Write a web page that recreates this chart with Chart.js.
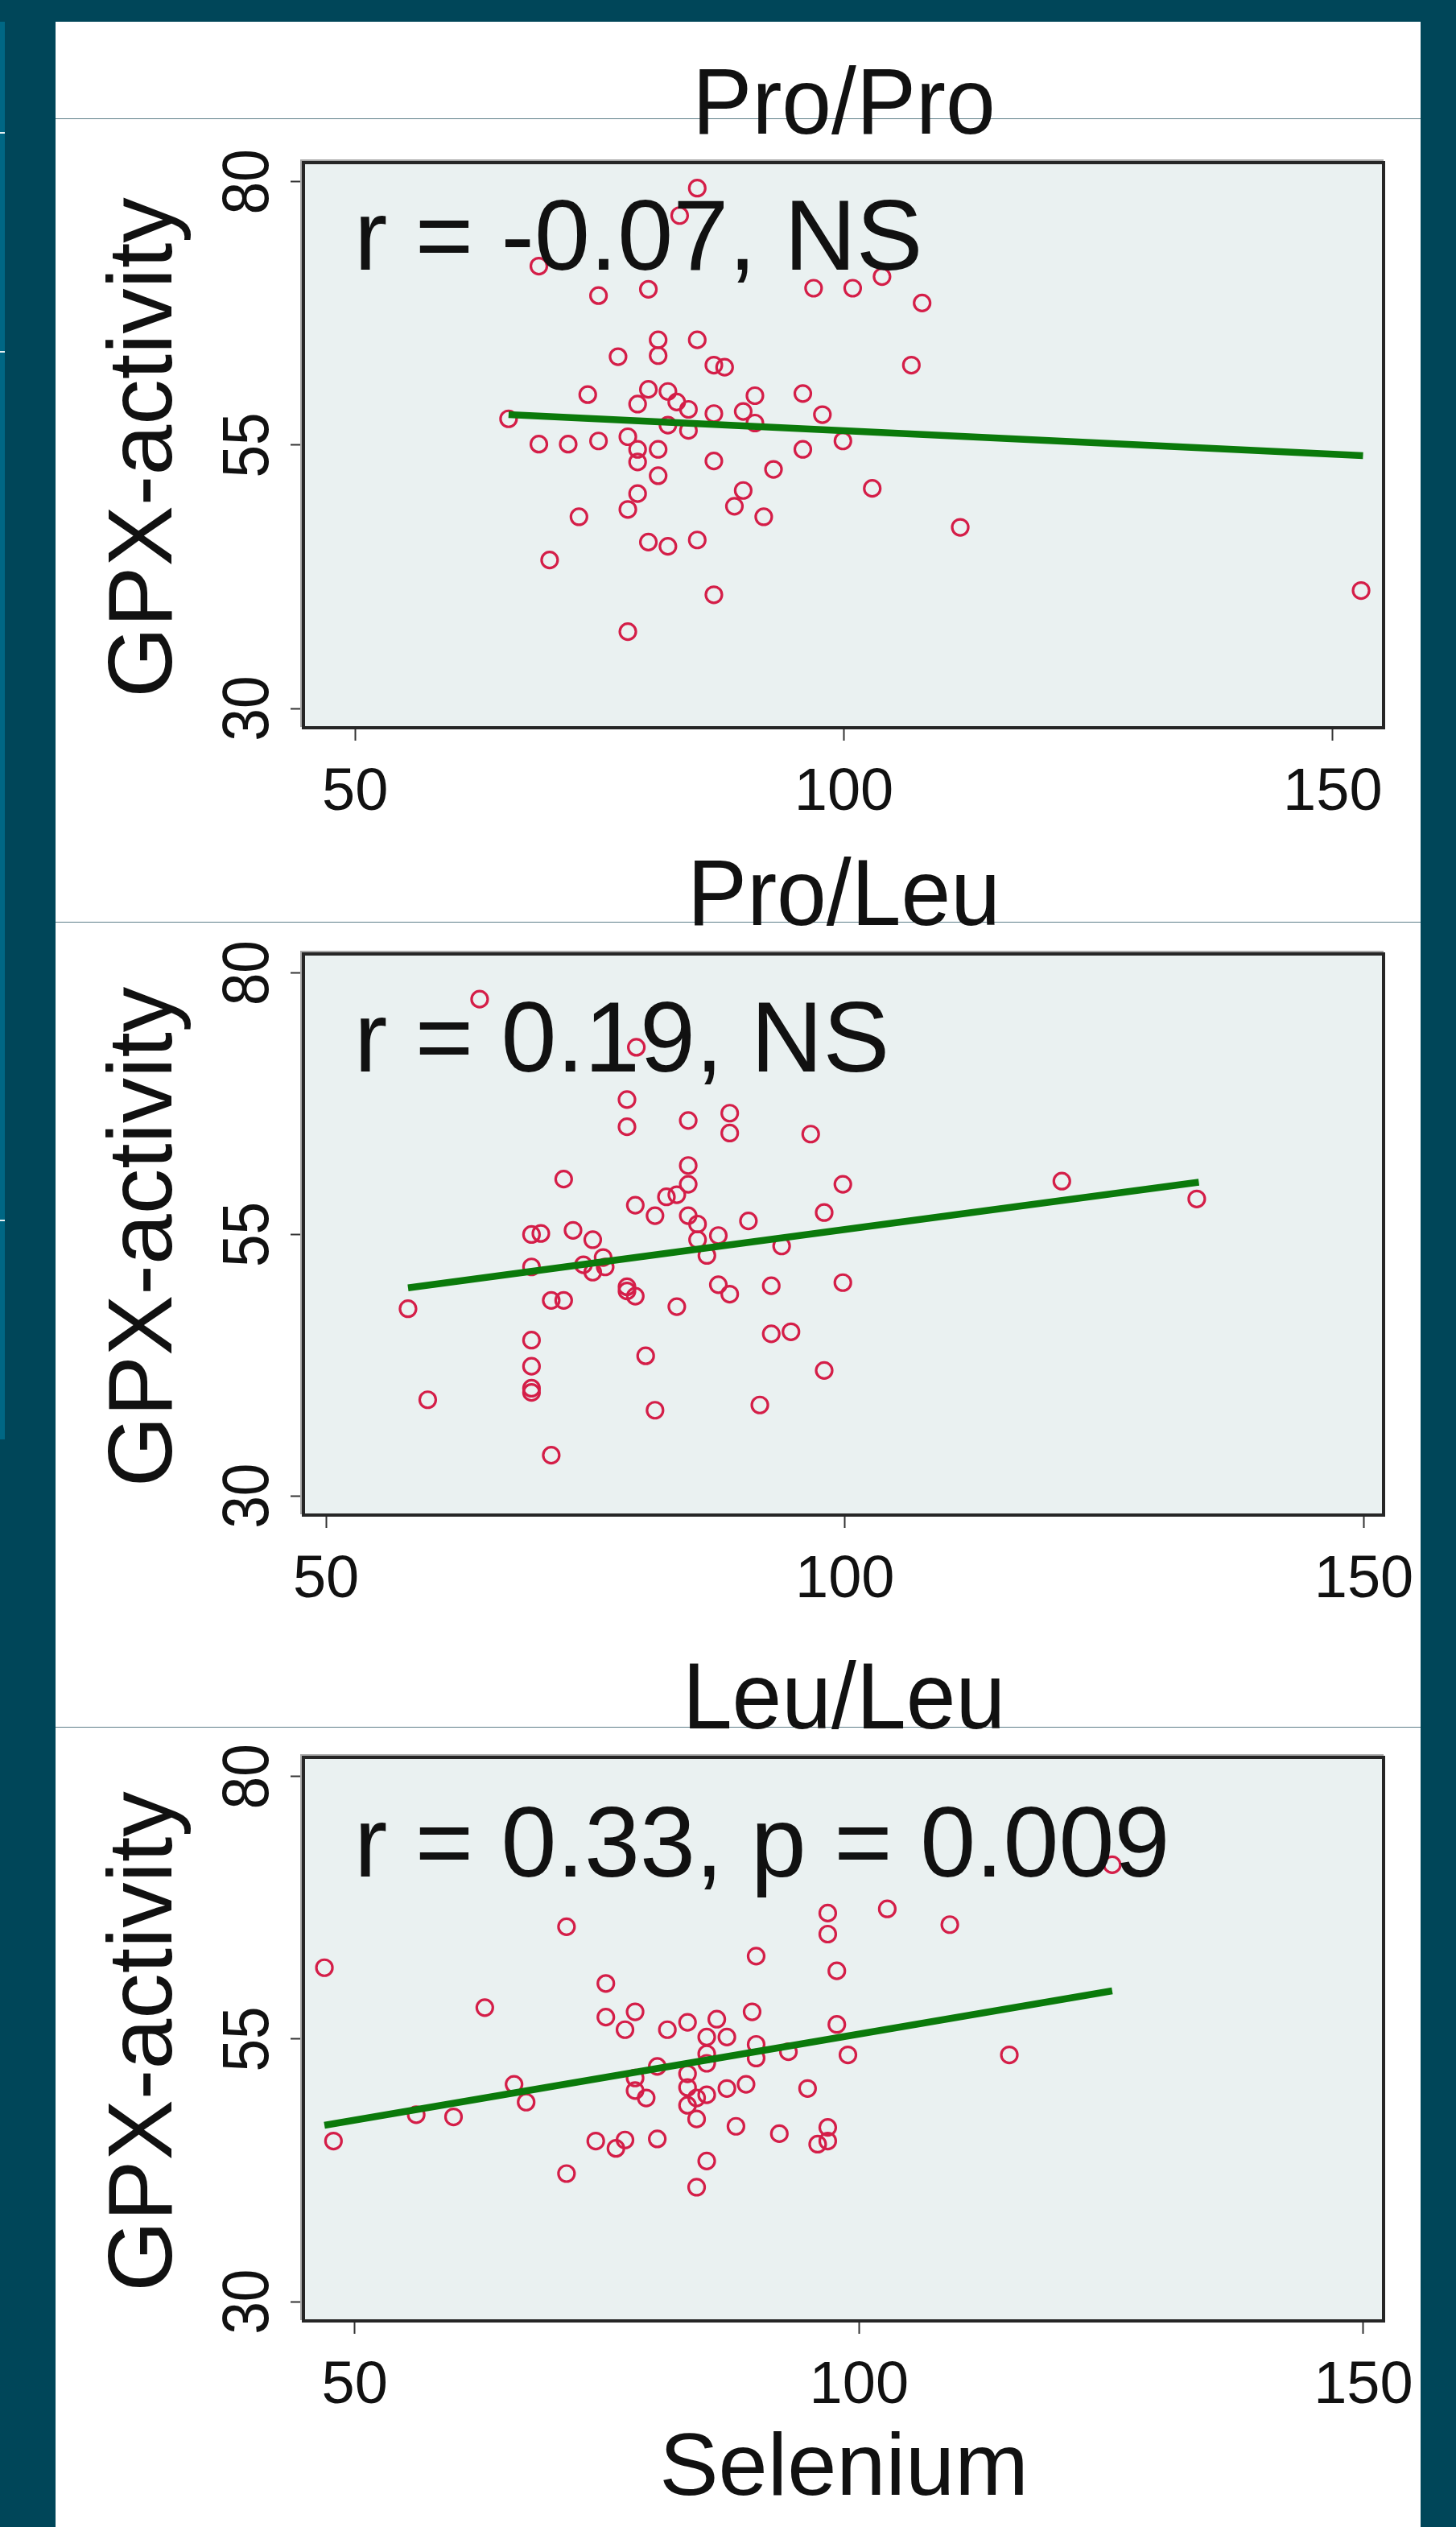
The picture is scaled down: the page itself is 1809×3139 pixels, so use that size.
<!DOCTYPE html>
<html>
<head>
<meta charset="utf-8">
<title>GPX-activity vs Selenium</title>
<script src="https://cdn.jsdelivr.net/npm/chart.js@4.4.1/dist/chart.umd.min.js"></script>
<style>
  html, body { margin: 0; padding: 0; }
  body { width: 1809px; height: 3139px; background: #004659; position: relative; overflow: hidden; }
  .sheet { position: absolute; left: 69px; top: 27px; width: 1696px; height: 3112px; background: #fff; }
  .strip { position: absolute; left: 0; top: 27px; width: 6px; height: 1761px; background: #006784; }
  .tick { position: absolute; left: 0; width: 6px; height: 2px; background: #e8f0f2; }
  .rule { position: absolute; left: 69px; width: 1696px; height: 1px; background: #5f7f8a; }
  canvas { position: absolute; left: 0; }
</style>
</head>
<body>
<div class="sheet"></div>
<div class="strip"></div>
<div class="tick" style="top:164px"></div>
<div class="tick" style="top:436px"></div>
<div class="tick" style="top:1515px"></div>
<div class="rule" style="top:147px"></div>
<div class="rule" style="top:1145px"></div>
<div class="rule" style="top:2145px"></div>
<canvas id="c1" width="1809" height="1139" style="top:0px"></canvas>
<canvas id="c2" width="1809" height="1139" style="top:1000px"></canvas>
<canvas id="c3" width="1809" height="1139" style="top:2000px"></canvas>
<script>
// panel titles and fit statistics
const titles = ['Pro/Pro', 'Pro/Leu', 'Leu/Leu'];
const notes = ['r = -0.07, NS', 'r = 0.19, NS', 'r = 0.33, p = 0.009'];
const xTicks = [50, 100, 150];
const yTicks = [30, 55, 80];

// Pro/Pro : selenium, GPX-activity
const proProX = [85.0, 83.2, 68.8, 74.9, 80.0, 96.9, 100.9, 103.9, 108.0, 81.0, 85.0, 76.9, 81.0, 86.7, 87.8, 106.9,
  73.8, 80.0, 82.0, 82.9, 78.9, 84.1, 86.7, 89.7, 90.9, 95.8, 97.8, 65.7, 82.0, 84.1, 90.9, 77.9, 68.8, 71.8, 74.9,
  78.9, 81.0, 99.9, 95.8, 78.9, 86.7, 81.0, 92.8, 102.9, 78.9, 89.7, 77.9, 88.8, 72.9, 91.8, 111.9, 80.0, 82.0, 85.0,
  69.9, 86.7, 77.9, 152.9];
const proProY = [79.4, 76.8, 72.0, 69.2, 69.8, 69.9, 69.9, 71.0, 68.5, 65.0, 65.0, 63.4, 63.5, 62.6, 62.4, 62.6,
  59.8, 60.3, 60.1, 59.1, 58.9, 58.4, 58.0, 58.2, 59.7, 59.9, 57.9, 57.5, 56.9, 56.4, 57.1, 55.8, 55.1, 55.1, 55.4,
  54.6, 54.6, 55.4, 54.6, 53.4, 53.5, 52.1, 52.7, 50.9, 50.4, 50.7, 48.9, 49.2, 48.2, 48.2, 47.2, 45.8, 45.4, 46.0,
  44.1, 40.8, 37.3, 41.2];

// Pro/Leu
const proLeuX = [64.8, 79.9, 79.0, 79.0, 84.9, 88.9, 88.9, 96.7, 84.9, 84.9, 72.9, 99.8, 120.9, 133.9, 82.8, 83.8,
  79.8, 81.7, 84.9, 90.7, 98.0, 85.8, 69.8, 70.7, 73.8, 75.7, 85.8, 87.8, 93.9, 86.7, 69.8, 74.8, 76.7, 75.7, 76.9,
  79.0, 79.8, 87.8, 88.9, 92.9, 99.8, 71.7, 72.9, 83.8, 57.9, 69.8, 92.9, 94.8, 80.8, 69.8, 69.8, 69.8, 98.0, 59.8,
  81.7, 91.8, 71.7, 79.0];
const proLeuY = [77.5, 72.9, 67.9, 65.3, 65.9, 66.6, 64.7, 64.6, 61.6, 59.8, 60.3, 59.8, 60.1, 58.4, 58.6, 58.8,
  57.8, 56.8, 56.8, 56.3, 57.1, 56.0, 55.0, 55.1, 55.4, 54.5, 54.5, 54.9, 53.9, 53.0, 51.9, 52.1, 52.8, 51.4, 51.9,
  50.0, 49.1, 50.2, 49.3, 50.1, 50.4, 48.7, 48.7, 48.1, 47.9, 44.9, 45.5, 45.7, 43.4, 42.4, 40.3, 39.9, 42.0, 39.2,
  38.2, 38.7, 33.9, 49.6];

// Leu/Leu
const leuLeuX = [47.0, 47.9, 56.1, 59.8, 62.9, 65.8, 67.0, 71.0, 71.0, 74.9, 74.9, 76.8, 77.8, 73.9, 75.9, 76.8,
  80.0, 81.0, 83.0, 85.9, 84.9, 86.9, 89.4, 89.8, 96.9, 96.9, 102.8, 109.0, 97.8, 97.8, 98.9, 114.9, 125.1, 89.8,
  89.8, 93.0, 84.9, 84.9, 80.0, 83.0, 77.8, 77.8, 78.9, 83.0, 83.9, 84.9, 83.0, 86.9, 88.8, 94.9, 83.9, 87.8, 92.1,
  96.9, 96.9, 95.9, 84.9, 83.9];
const leuLeuY = [61.8, 45.3, 47.8, 47.6, 58.0, 50.7, 49.0, 65.7, 42.2, 60.3, 57.1, 55.9, 57.6, 45.3, 44.6, 45.4,
  45.5, 55.9, 56.6, 56.9, 55.2, 55.2, 57.6, 62.9, 67.0, 65.0, 67.4, 65.9, 61.5, 56.4, 53.5, 53.5, 71.6, 54.5, 53.2,
  53.8, 53.6, 52.7, 52.4, 51.7, 51.3, 50.1, 49.4, 50.4, 49.4, 49.7, 48.7, 50.3, 50.7, 50.3, 47.4, 46.7, 46.0, 46.6,
  45.3, 45.0, 43.4, 40.9];

// linear fit end points
const fitX = [[65.7, 153.1], [57.9, 134.1], [47.0, 125.1]];
const fitY = [[57.9, 54.0], [49.9, 60.0], [46.8, 59.6]];

// axis ranges per panel
const xMin = [44.8, 47.9, 45.0];
const xMax = [155.2, 151.9, 152.0];
const yMin = 28.25;
const yMax = 81.9;

const seriesX = [proProX, proLeuX, leuLeuX];
const seriesY = [proProY, proLeuY, leuLeuY];

// layout (page pixels)
const canvasTop = [0, 1000, 2000];
const boxTop = [201, 1184, 2182];
const boxBottom = [903, 1881, 2882];
const noteDy = [134, 147, 149];
const FONT = '"Liberation Sans", Arial, Helvetica, sans-serif';
const INK = '#111111';

const panelDecor = {
  id: 'panelDecor',
  beforeDraw(chart) {
    const {ctx, chartArea: a} = chart;
    ctx.save();
    ctx.fillStyle = '#eaf1f1';
    ctx.fillRect(a.left, a.top, a.right - a.left, a.bottom - a.top);
    ctx.restore();
  },
  afterDatasetsDraw(chart, args, o) {
    const {ctx, chartArea: a} = chart;
    ctx.save();
    ctx.fillStyle = INK;
    ctx.font = '124px ' + FONT;
    ctx.textAlign = 'left';
    ctx.textBaseline = 'alphabetic';
    ctx.fillText(o.note, a.left + 62, a.top + o.noteDy);
    ctx.restore();
  },
  afterDraw(chart, args, o) {
    const {ctx, chartArea: a} = chart;
    const xs = chart.scales.x, ys = chart.scales.y;
    const cx = (a.left + a.right) / 2;
    ctx.save();
    // frame
    ctx.strokeStyle = '#a9a9a9';
    ctx.lineWidth = 2;
    ctx.beginPath();
    ctx.moveTo(a.left - 4, a.bottom);
    ctx.lineTo(a.left - 4, a.top - 2);
    ctx.lineTo(a.right, a.top - 2);
    ctx.stroke();
    ctx.strokeStyle = '#262626';
    ctx.lineWidth = 4;
    ctx.strokeRect(a.left - 1, a.top + 1, a.right - a.left + 1, a.bottom - a.top);

    ctx.fillStyle = INK;
    ctx.textBaseline = 'alphabetic';
    ctx.textAlign = 'center';
    // title
    ctx.save();
    ctx.translate(cx, a.top - 35);
    ctx.scale(1, 1.05);
    ctx.font = '111px ' + FONT;
    ctx.fillText(o.title, 0, 0);
    ctx.restore();
    // x tick labels
    ctx.font = '74px ' + FONT;
    xTicks.forEach(v => ctx.fillText(String(v), xs.getPixelForValue(v), a.bottom + 103));
    // y tick labels, rotated
    yTicks.forEach(v => {
      ctx.save();
      ctx.translate(a.left - 45, ys.getPixelForValue(v));
      ctx.rotate(-Math.PI / 2);
      ctx.scale(1, 1.12);
      ctx.font = '73px ' + FONT;
      ctx.fillText(String(v), 0, 0);
      ctx.restore();
    });
    // y title
    ctx.save();
    ctx.translate(a.left - 165, (a.top + a.bottom) / 2 + 4);
    ctx.rotate(-Math.PI / 2);
    ctx.font = '113px ' + FONT;
    ctx.fillText('GPX-activity', 0, 0);
    ctx.restore();
    // x title
    if (o.xTitle) {
      ctx.font = '110px ' + FONT;
      ctx.fillText(o.xTitle, cx, a.bottom + 217);
    }
    ctx.restore();
  }
};

function makePanel(i) {
  const pts = seriesX[i].map((x, k) => ({x: x, y: seriesY[i][k]}));
  const fit = fitX[i].map((x, k) => ({x: x, y: fitY[i][k]}));
  const ctx = document.getElementById('c' + (i + 1)).getContext('2d');
  return new Chart(ctx, {
    type: 'scatter',
    data: {
      datasets: [
        {
          type: 'line',
          label: 'Linear fit',
          data: fit,
          order: 0,
          borderColor: '#0b7a0b',
          borderWidth: 8.5,
          pointRadius: 0,
          fill: false,
          tension: 0
        },
        {
          label: 'GPX-activity',
          data: pts,
          order: 1,
          pointStyle: 'circle',
          pointRadius: 10,
          pointBorderWidth: 3.2,
          borderColor: '#d41e48',
          backgroundColor: 'rgba(0,0,0,0)'
        }
      ]
    },
    options: {
      responsive: false,
      animation: false,
      events: [],
      devicePixelRatio: 1,
      layout: {
        padding: {
          left: 378,
          right: 1809 - 1719,
          top: boxTop[i] - canvasTop[i],
          bottom: canvasTop[i] + 1139 - boxBottom[i]
        }
      },
      scales: {
        x: {
          type: 'linear',
          position: 'bottom',
          min: xMin[i],
          max: xMax[i],
          afterBuildTicks: s => { s.ticks = xTicks.map(v => ({value: v})); },
          afterFit: s => { s.height = 0; },
          ticks: {display: false},
          border: {display: false},
          grid: {display: true, drawOnChartArea: false, drawTicks: true, tickLength: 17, tickWidth: 2, tickColor: '#333'}
        },
        y: {
          type: 'linear',
          position: 'left',
          min: yMin,
          max: yMax,
          afterBuildTicks: s => { s.ticks = yTicks.map(v => ({value: v})); },
          afterFit: s => { s.width = 0; },
          ticks: {display: false},
          border: {display: false},
          grid: {display: true, drawOnChartArea: false, drawTicks: true, tickLength: 17, tickWidth: 2, tickColor: '#333'}
        }
      },
      plugins: {
        legend: {display: false},
        tooltip: {enabled: false},
        panelDecor: {
          title: titles[i],
          note: notes[i],
          noteDy: noteDy[i],
          xTitle: i === 2 ? 'Selenium' : ''
        }
      }
    },
    plugins: [panelDecor]
  });
}

[0, 1, 2].forEach(makePanel);
</script>
</body>
</html>
